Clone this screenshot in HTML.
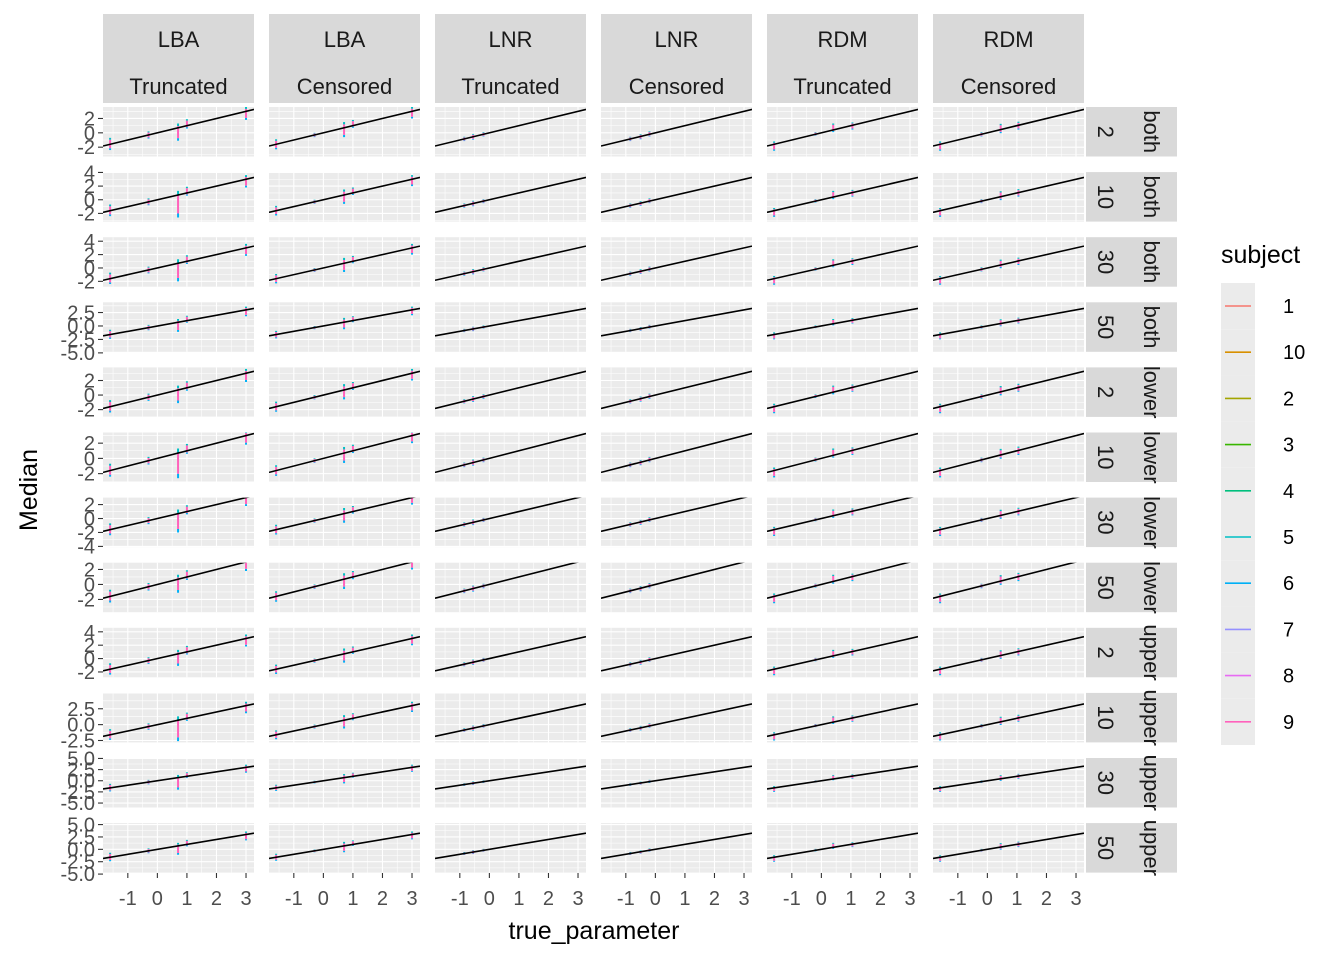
<!DOCTYPE html>
<html><head><meta charset="utf-8"><style>
body{margin:0;background:#fff;}
svg{display:block;font-family:"Liberation Sans",sans-serif;}
</style></head><body>
<svg id="chart" width="1344" height="960" xmlns="http://www.w3.org/2000/svg"></svg>
<script>
const colModels = ["LBA","LBA","LNR","LNR","RDM","RDM"];
const colTypes = ["Truncated","Censored","Truncated","Censored","Truncated","Censored"];
const rowN = ["2","10","30","50","2","10","30","50","2","10","30","50"];
const rowBound = ["both","both","both","both","lower","lower","lower","lower","upper","upper","upper","upper"];
const rowYMin = [-3.3,-3.2,-2.8,-4.8,-3.0,-3.1,-4.1,-3.7,-2.8,-2.8,-6.0,-4.7];
const rowYMax = [3.6,4.05,4.6,4.4,3.8,3.4,3.0,2.9,4.6,5.0,5.1,5.3];
const rowTicks = [[-2,0,2],[-2,0,2,4],[-2,0,2,4],[-5,-2.5,0,2.5],[-2,0,2],[-2,0,2],[-4,-2,0,2],[-2,0,2],[-2,0,2,4],[-2.5,0,2.5],[-5,-2.5,0,2.5,5],[-5,-2.5,0,2.5,5]];
const rowTickDec = [0,0,0,1,0,0,0,0,0,1,1,1];
const xTicks = [-1,0,1,2,3];
const subjects = ["1","10","2","3","4","5","6","7","8","9"];
const subjColors = ["#F8766D","#D89000","#A3A500","#39B600","#00BF7D","#00BFC4","#00B0F6","#9590FF","#E76BF3","#FF62BC"];
const colParams = [[-1.6,-0.3,0.7,1.0,3.0],[-1.6,-0.3,0.7,1.0,3.0],[-0.85,-0.55,-0.2],[-0.85,-0.5,-0.2],[-1.6,-0.2,0.4,1.05],[-1.6,-0.2,0.45,1.05]];
const spreadLo = [[0.8,0.5,1.8,0.4,1.2],[0.7,0.3,1.3,0.3,1.0],[0.3,0.4,0.3],[0.3,0.4,0.3],[0.9,0.2,0.3,0.6],[0.9,0.3,0.5,0.6]];
const spreadHi = [[0.9,0.5,0.6,0.9,0.6],[0.7,0.3,0.8,0.8,0.6],[0.3,0.4,0.3],[0.3,0.3,0.4],[0.4,0.3,0.9,0.4],[0.4,0.3,0.8,0.5]];
const extraLo = [[0,0,-1.5,0,0],[0,0,0,0,0],[0,0,0],[0,0,0],[0,0,0,0],[0,0,0,0]];

const svg = document.getElementById('chart');
const NS = "http://www.w3.org/2000/svg";
function mk(tag, attrs, parent){const e=document.createElementNS(NS,tag);for(const k in attrs)e.setAttribute(k,attrs[k]);(parent||svg).appendChild(e);return e;}
const X0 = 103, PW = 151, CP = 166, Y0 = 107, PH = 49.5, RP = 65.1;
const XMIN = -1.84, XMAX = 3.27;
function xs(c,v){return X0 + c*CP + (v-XMIN)/(XMAX-XMIN)*PW;}
function ys(r,v){const t=Y0+r*RP;return t+PH-(v-rowYMin[r])/(rowYMax[r]-rowYMin[r])*PH;}

for(let c=0;c<6;c++){
  const g=mk('g',{});
  
  
  mk('rect',{x:X0+c*CP,y:14,width:PW,height:89,fill:'#D9D9D9'},g);
  const t1=mk('text',{x:X0+c*CP+PW/2,y:47,'text-anchor':'middle','font-size':22,fill:'#1A1A1A'},g);t1.textContent=colModels[c];
  const t2=mk('text',{x:X0+c*CP+PW/2,y:94,'text-anchor':'middle','font-size':22,fill:'#1A1A1A'},g);t2.textContent=colTypes[c];
}
for(let r=0;r<12;r++){
  const top=Y0+r*RP;
  const sg=mk('g',{});
  
  
  mk('rect',{x:1086,y:top,width:91,height:PH,fill:'#D9D9D9'},sg);
  const s1=mk('text',{x:0,y:0,'text-anchor':'middle','font-size':22,fill:'#1A1A1A',transform:`translate(1098,${top+PH/2}) rotate(90)`},sg);s1.textContent=rowN[r];
  const s2=mk('text',{x:0,y:0,'text-anchor':'middle','font-size':22,fill:'#1A1A1A',transform:`translate(1144,${top+PH/2}) rotate(90)`},sg);s2.textContent=rowBound[r];
  const ag=mk('g',{});
  
  
  rowTicks[r].forEach(v=>{
    const y=ys(r,v);
    mk('line',{x1:98,x2:103,y1:y,y2:y,stroke:'#333','stroke-width':1.1},ag);
    const t=mk('text',{x:95,y:y+7,'text-anchor':'end','font-size':20,fill:'#4D4D4D'},ag);
    t.textContent=v.toFixed(rowTickDec[r]);
  });
  for(let c=0;c<6;c++){
    const pg=mk('g',{});
    
    
    const left=X0+c*CP;
    mk('rect',{x:left,y:top,width:PW,height:PH,fill:'#EBEBEB'},pg);
    const clipId='cl'+r+'_'+c;
    const cp=mk('clipPath',{id:clipId},pg);mk('rect',{x:left,y:top,width:PW,height:PH},cp);
    const tks=rowTicks[r];const step=tks[1]-tks[0];
    for(let v=tks[0]-step*3;v<=tks[tks.length-1]+step*3;v+=step/2){
      const y=ys(r,v);if(y<top||y>top+PH)continue;
      const major=Math.abs((v-tks[0])/step-Math.round((v-tks[0])/step))<1e-6;
      mk('line',{x1:left,x2:left+PW,y1:y,y2:y,stroke:'#fff','stroke-width':major?1.1:0.55},pg);
    }
    for(let v=-1.5;v<=3.0;v+=0.5){
      const x=xs(c,v);
      mk('line',{x1:x,x2:x,y1:top,y2:top+PH,stroke:'#fff','stroke-width':Number.isInteger(v)?1.1:0.55},pg);
    }
    const dg=mk('g',{'clip-path':`url(#${clipId})`},pg);
    colParams[c].forEach((p,i)=>{
      const lo=p-spreadLo[c][i]+extraLo[c][i]*(r%4===1?1:(r%4===2?0.6:0));
      const hi=p+spreadHi[c][i];
      const x=xs(c,p);
      const seg=(a,b,col,idx)=>{const l=mk('line',{x1:x,x2:x,y1:ys(r,a),y2:ys(r,b),stroke:col,'stroke-width':2},dg);
        
        };
      const span=hi-lo;
      seg(lo,lo+span*0.15,subjColors[6],6);
      seg(lo+span*0.15,hi-span*0.15,subjColors[9],9);
      seg(hi-span*0.15,hi,subjColors[5],5);
    });
    const il=mk('line',{x1:xs(c,XMIN),y1:ys(r,XMIN),x2:xs(c,XMAX),y2:ys(r,XMAX),stroke:'#000','stroke-width':1.6,'clip-path':`url(#${clipId})`},pg);
    
    
  }
}
for(let c=0;c<6;c++){
  const g=mk('g',{});
  
  
  xTicks.forEach(v=>{
    const x=xs(c,v);
    mk('line',{x1:x,x2:x,y1:873,y2:878,stroke:'#333','stroke-width':1.1},g);
    const t=mk('text',{x:x,y:905,'text-anchor':'middle','font-size':20,fill:'#4D4D4D'},g);t.textContent=v;
  });
}
const xt=mk('text',{x:594,y:939,'text-anchor':'middle','font-size':25,fill:'#000'});xt.textContent='true_parameter';

const yt=mk('text',{x:0,y:0,'text-anchor':'middle','font-size':25,fill:'#000',transform:'translate(37,490) rotate(-90)'});yt.textContent='Median';

const lg=mk('g',{});

const ltt=mk('text',{x:1221,y:263,'font-size':25,fill:'#000'},lg);ltt.textContent='subject';
subjects.forEach((s,i)=>{
  const y=283+i*46.2;
  const e=mk('g',{},lg);
  
  
  mk('rect',{x:1221,y:y,width:34,height:46.2,fill:'#EBEBEB'},e);
  mk('line',{x1:1225,x2:1251,y1:y+23,y2:y+23,stroke:subjColors[i],'stroke-width':1.6},e);
  const t=mk('text',{x:1283,y:y+30,'font-size':20,fill:'#000'},e);t.textContent=s;
});
</script>
</body></html>
